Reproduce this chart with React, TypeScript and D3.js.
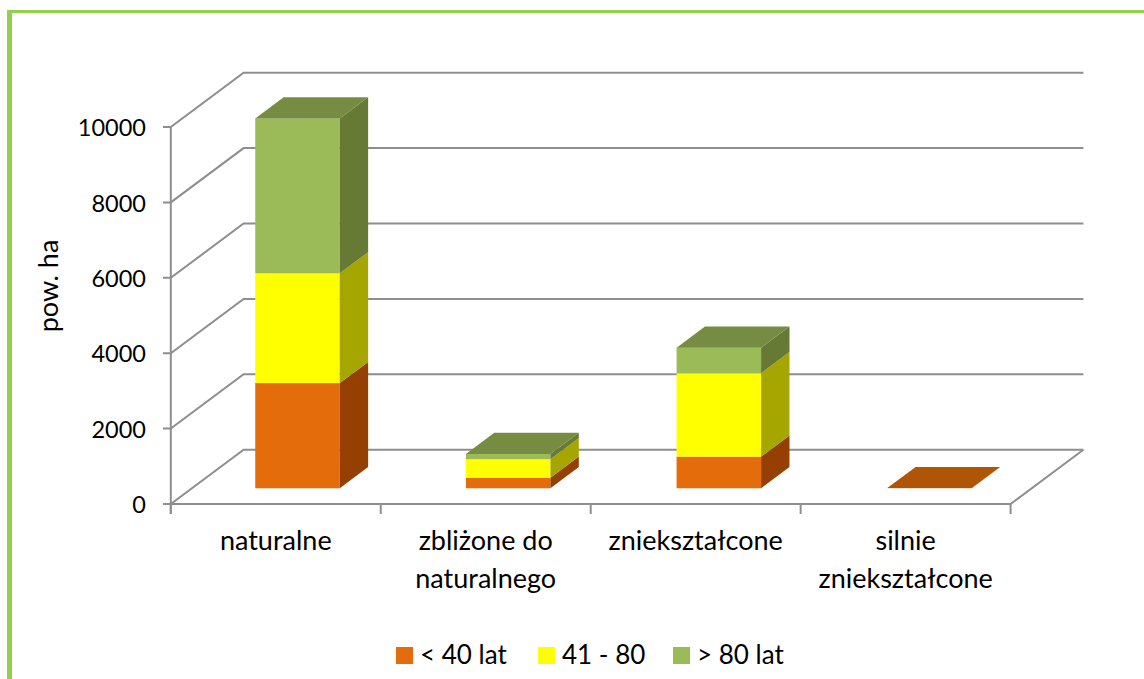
import React from "react";
import * as d3 from "d3";

const categories = [["naturalne"], ["zbliżone do", "naturalnego"], ["zniekształcone"], ["silnie", "zniekształcone"]];
const categoryKeys = ["naturalne", "zblizone", "znieksztalcone", "silnie"];
const seriesNames = ["< 40 lat", "41 - 80", "> 80 lat"];
const under40 = [2790, 280, 840, 5];
const from41to80 = [2910, 490, 2210, 0];
const over80 = [4110, 140, 680, 0];
const yTicks = [0, 2000, 4000, 6000, 8000, 10000];
const axisTitle = "pow. ha";

const frontColors = ["#E46C0A", "#FFFF00", "#9BBB59"];
const sideColors = ["#953F03", "#A6A600", "#667A36"];
const topColors = ["#B05506", "#C4C400", "#778C43"];
const GRID = "#8E8E8E";
const FONT = "Lato, Carlito, sans-serif";
const FS_NUM = 23.5;
const FS_TEXT = 27;

const x = d3.scaleBand().domain(categoryKeys).range([170.8, 1010.6]);
// front plane of the bars sits slightly wider than the axis (perspective)
const barX = d3.scaleBand().domain(categoryKeys).range([192.15, 1034.85]);
const y = d3.scaleLinear().domain([0, 10000]).range([504, 127]);
const DX = 72.8, DY = -54.3;
const T0 = 0.29, T1 = 0.68;
const BAR_W = 84.5;

const poly = (pts: number[][]) => pts.map((p) => p.join(",")).join(" ");

export default function App() {
  const stack = d3.stack<number>().keys(["0", "1", "2"]).value((i, k) => [under40, from41to80, over80][+k][i]);
  const layers = stack(categoryKeys.map((_, i) => i));
  const x0 = x.range()[0], x1 = x.range()[1];

  return (
    <svg width={1144} height={679} style={{ position: "absolute", left: 0, top: 0, background: "#fff" }} fontFamily={FONT}>
      {/* frame */}
      <line x1={9.5} y1={10} x2={9.5} y2={679} stroke="#92D050" strokeWidth={5} />
      <line x1={7} y1={11.5} x2={1144} y2={11.5} stroke="#92D050" strokeWidth={3} />

      {/* grid */}
      {yTicks.map((t) => (
        <g key={t}>
          <polyline
            points={poly([[163, y(t)], [x0, y(t)], [x0 + DX, y(t) + DY], [x1 + DX, y(t) + DY]])}
            fill="none" stroke={GRID} strokeWidth={2}
          />
          <text x={146} y={y(t)} dy="0.39em" textAnchor="end" fontSize={FS_NUM} fill="#000">{t}</text>
        </g>
      ))}
      <line x1={x0} y1={y(10000)} x2={x0} y2={y(0) + 10} stroke={GRID} strokeWidth={2} />
      <polyline points={poly([[x0, y(0)], [x1, y(0)], [x1 + DX, y(0) + DY]])} fill="none" stroke={GRID} strokeWidth={2} />
      {[...categoryKeys.map((c) => x(c)!), x1].map((v) => (
        <line key={v} x1={v} y1={y(0)} x2={v} y2={y(0) + 10} stroke={GRID} strokeWidth={2} />
      ))}

      {/* bars */}
      {categoryKeys.map((c, i) => {
        const left = barX(c)! + (barX.bandwidth() - BAR_W) / 2;
        const right = left + BAR_W;
        const ox = DX * (T1 - T0), oy = DY * (T1 - T0);
        const lift = DY * T0;
        const visible = layers.filter((l) => l[i][1] > l[i][0]);
        return (
          <g key={c}>
            {visible.map((l) => {
              const s = +l.key;
              const y0 = y(l[i][0]) + lift, y1 = y(l[i][1]) + lift;
              return (
                <g key={l.key}>
                  <rect x={left} y={y1} width={BAR_W} height={y0 - y1} fill={frontColors[s]} />
                  <polygon points={poly([[right, y0], [right + ox, y0 + oy], [right + ox, y1 + oy], [right, y1]])} fill={sideColors[s]} />
                </g>
              );
            })}
            {(() => {
              const l = visible[visible.length - 1];
              const top = y(l[i][1]) + lift;
              return <polygon points={poly([[left, top], [left + ox, top + oy], [right + ox, top + oy], [right, top]])} fill={topColors[+l.key]} />;
            })()}
          </g>
        );
      })}

      {/* category labels */}
      {categories.map((lines, i) =>
        lines.map((ln, j) => (
          <text key={ln + i} x={x(categoryKeys[i])! + x.bandwidth() / 2} y={550 + j * 38} textAnchor="middle" fontSize={FS_TEXT} fill="#000">{ln}</text>
        ))
      )}

      <text transform="translate(58,286) rotate(-90)" textAnchor="middle" fontSize={FS_TEXT} fill="#000">{axisTitle}</text>

      {/* legend */}
      {seriesNames.map((n, i) => {
        const lx = [396, 538, 673][i];
        return (
          <g key={n}>
            <rect x={lx} y={647} width={17} height={17} fill={frontColors[i]} />
            <text x={lx + 24} y={664} fontSize={26} fill="#000">{n}</text>
          </g>
        );
      })}
    </svg>
  );
}
